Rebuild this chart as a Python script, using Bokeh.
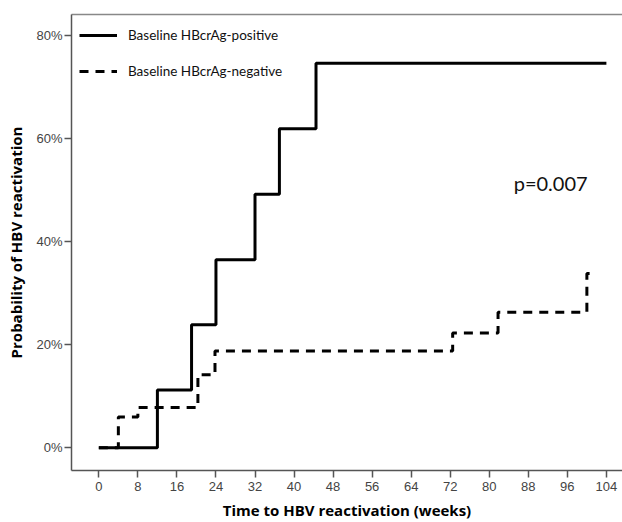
from bokeh.plotting import figure
from bokeh.models import (Range1d, LinearAxis, FixedTicker, PrintfTickFormatter,
                          Legend, LegendItem, Label)
from bokeh.embed import file_html
from bokeh.resources import INLINE

# Data (weeks, cumulative probability in %)
pos_weeks = [0, 12, 19, 24, 32, 37, 44.5, 104]
pos_prob = [0, 11.2, 23.9, 36.5, 49.2, 61.9, 74.6, 74.6]

neg_weeks = [0, 4, 8, 20.3, 23.8, 72.5, 81.8, 100, 102]
neg_prob = [0, 6.0, 7.8, 14.2, 18.8, 22.3, 26.3, 33.8, 33.8]

x_ticks = list(range(0, 105, 8))
y_ticks = [0, 20, 40, 60, 80]

p = figure(width=622, height=522, output_backend="svg", toolbar_location=None,
           x_range=Range1d(-5.6, 107.3), y_range=Range1d(-4.4, 84.07),
           min_border_left=71, min_border_right=0, min_border_top=14,
           min_border_bottom=51)
p.outline_line_color = None
p.xgrid.visible = False
p.ygrid.visible = False
p.background_fill_color = "white"
p.border_fill_color = "white"

r1 = p.step(pos_weeks, pos_prob, mode="after", line_width=3, line_color="black")
r2 = p.step(neg_weeks, neg_prob, mode="after", line_width=3, line_color="black",
            line_dash="9 7")

for ax in (p.xaxis[0], p.yaxis[0]):
    ax.axis_line_color = "#555555"
    ax.axis_line_width = 1.5
    ax.major_tick_line_color = "#555555"
    ax.major_tick_line_width = 1.5
    ax.major_tick_in = 0
    ax.major_tick_out = 7
    ax.minor_tick_line_color = None
    ax.major_label_text_font = "Liberation Sans"
    ax.major_label_text_font_size = "13px"
    ax.major_label_text_color = "#444444"
    ax.axis_label_text_font = "Open Sans"
    ax.axis_label_text_font_style = "bold"
    ax.axis_label_text_font_size = "15px"
    ax.axis_label_text_color = "black"

p.xaxis.ticker = FixedTicker(ticks=x_ticks)
p.yaxis.ticker = FixedTicker(ticks=y_ticks)
p.yaxis.formatter = PrintfTickFormatter(format="%d%%")
p.xaxis.axis_label = "Time to HBV reactivation (weeks)"
p.yaxis.axis_label = "Probability of HBV reactivation"
p.xaxis.major_label_standoff = 4
p.yaxis.major_label_standoff = 2
p.xaxis.axis_label_standoff = 6
p.yaxis.axis_label_standoff = 7

top = LinearAxis(axis_line_color="#888888", axis_line_width=1.5,
                 major_tick_line_color=None, minor_tick_line_color=None,
                 major_label_text_font_size="0px", ticker=FixedTicker(ticks=[]))
p.add_layout(top, "above")

legend = Legend(items=[LegendItem(label="Baseline HBcrAg-positive", renderers=[r1]),
                       LegendItem(label="Baseline HBcrAg-negative", renderers=[r2])],
                location="top_left", margin=8, padding=0, spacing=10,
                glyph_width=38, glyph_height=26, label_height=26, label_standoff=11,
                label_text_font="Lato", label_text_font_size="13.5px",
                label_text_color="#111111",
                border_line_color=None, background_fill_alpha=0)
p.add_layout(legend)

p.add_layout(Label(x=85, y=51.3, text="p=0.007", text_font="Lato",
                   text_font_size="20px", text_baseline="middle",
                   text_color="#111111"))

open("out.html", "w").write(file_html(p, INLINE))
